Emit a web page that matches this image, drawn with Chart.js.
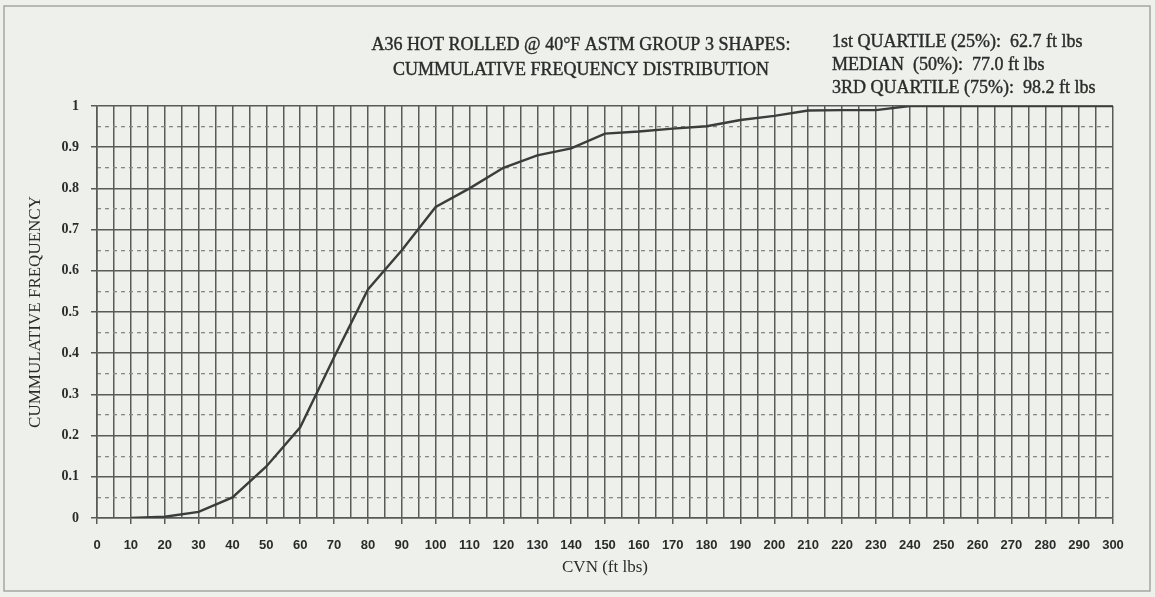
<!DOCTYPE html>
<html>
<head>
<meta charset="utf-8">
<script src="https://cdn.jsdelivr.net/npm/chart.js@4/dist/chart.umd.min.js"></script>
<style>
  html, body { margin: 0; padding: 0; background: #eef0ec; }
  canvas { display: block; }
</style>
</head>
<body>
<canvas id="cvnChart" width="1155" height="597"></canvas>
<script>
// CVN values (ft lbs) and cumulative frequency read at each 10 ft lbs
const cvnValues = [10, 20, 30, 40, 50, 60, 70, 80, 90, 100,
  110, 120, 130, 140, 150, 160, 170, 180, 190, 200,
  210, 220, 230, 240, 250, 260, 270, 280, 290, 300];
const cumFrequency = [0, 0.003, 0.015, 0.05, 0.125, 0.22, 0.39, 0.555, 0.65, 0.755,
  0.80, 0.85, 0.88, 0.897, 0.933, 0.938, 0.945, 0.951, 0.966, 0.976,
  0.989, 0.99, 0.99, 1, 1, 1, 1, 1, 1, 1];

const titleLines = ['A36 HOT ROLLED @ 40°F ASTM GROUP 3 SHAPES:', 'CUMMULATIVE FREQUENCY DISTRIBUTION'];
const statLines = ['1st QUARTILE (25%):  62.7 ft lbs', 'MEDIAN  (50%):  77.0 ft lbs', '3RD QUARTILE (75%):  98.2 ft lbs'];

const inkColor = '#2a2c2a';
const gridColor = '#585b58';
const dashColor = '#868986';
const serif = '"Liberation Serif", "Times New Roman", serif';

const textPlugin = {
  id: 'headerText',
  beforeDraw(chart) {
    const c = chart.ctx;
    c.save();
    c.fillStyle = '#eef0ec';
    c.fillRect(0, 0, chart.width, chart.height);
    c.strokeStyle = '#a4a6a3';
    c.lineWidth = 1.5;
    c.strokeRect(4, 6, chart.width - 9, chart.height - 12);
    c.restore();
  },
  afterDraw(chart) {
    const c = chart.ctx;
    c.save();
    c.fillStyle = inkColor;
    c.strokeStyle = inkColor;
    c.lineWidth = 0.4;
    c.font = '18px ' + serif;
    c.textBaseline = 'middle';
    c.textAlign = 'center';
    titleLines.forEach((t, i) => {
      c.fillText(t, 581, 45 + i * 25);
      c.strokeText(t, 581, 45 + i * 25);
    });
    c.textAlign = 'left';
    statLines.forEach((t, i) => {
      c.fillText(t, 832, 42 + i * 23);
      c.strokeText(t, 832, 42 + i * 23);
    });
    c.restore();
  }
};

const ctx = document.getElementById('cvnChart').getContext('2d');
const cvnChart = new Chart(ctx, {
  type: 'line',
  data: {
    datasets: [{
      data: cvnValues.map((v, i) => ({ x: v, y: cumFrequency[i] })),
      borderColor: '#3a3d3a',
      borderWidth: 2.4,
      pointRadius: 0,
      tension: 0,
      fill: false
    }]
  },
  options: {
    responsive: false,
    animation: false,
    layout: { padding: { left: 0, right: 42, top: 106, bottom: 0 } },
    plugins: {
      legend: { display: false },
      tooltip: { enabled: false }
    },
    scales: {
      x: {
        type: 'linear',
        min: 0,
        max: 300,
        afterFit: (scale) => { scale.height = 79; },
        ticks: {
          stepSize: 5,
          autoSkip: false,
          maxRotation: 0,
          padding: 14,
          color: inkColor,
          font: { family: '"Liberation Sans", Arial, sans-serif', size: 13, weight: 'bold' },
          callback: (value) => (value % 10 === 0 ? value : '')
        },
        grid: {
          color: gridColor,
          lineWidth: 1.5,
          tickLength: 6,
          tickColor: (c) => (c.tick && c.tick.value % 10 === 0 ? gridColor : 'rgba(0,0,0,0)')
        },
        border: { color: gridColor, width: 1.6 },
        title: {
          display: true,
          text: 'CVN (ft lbs)',
          color: inkColor,
          font: { family: serif, size: 17 },
          padding: { top: 0, bottom: 19 }
        }
      },
      y: {
        min: 0,
        max: 1,
        afterFit: (scale) => { scale.width = 97; },
        ticks: {
          stepSize: 0.1,
          padding: 12,
          color: inkColor,
          font: { family: serif, size: 14, weight: 'bold' },
          callback: (value) => String(Number(value.toFixed(2)))
        },
        grid: { color: gridColor, lineWidth: 1.5, tickLength: 6 },
        border: { color: gridColor, width: 1.6 },
        title: {
          display: true,
          text: 'CUMMULATIVE FREQUENCY',
          color: inkColor,
          font: { family: serif, size: 17 },
          padding: { top: 25, bottom: 0 }
        }
      },
      // dashed lines halfway between the 0.1 steps
      yMinor: {
        position: 'right',
        min: 0,
        max: 1,
        afterFit: (scale) => { scale.width = 0; },
        ticks: { stepSize: 0.05, display: false },
        grid: {
          drawTicks: false,
          lineWidth: 1.3,
          color: (c) => (c.index % 2 === 1 ? dashColor : 'rgba(0,0,0,0)')
        },
        border: { display: false, dash: [4, 4] }
      }
    }
  },
  plugins: [textPlugin]
});
</script>
</body>
</html>
